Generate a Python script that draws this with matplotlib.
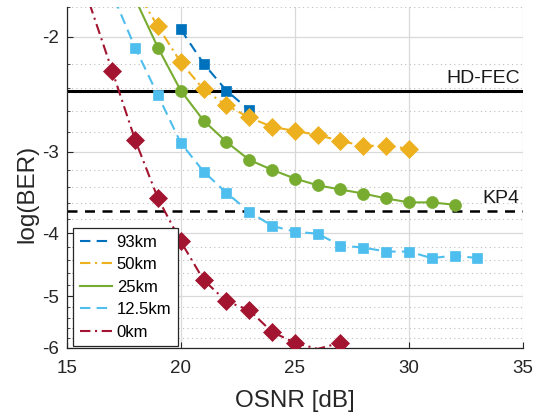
import numpy as np
import matplotlib
matplotlib.use("Agg")
import matplotlib.pyplot as plt
from matplotlib.ticker import FixedLocator, FixedFormatter

plt.rcParams['font.family'] = ['Liberation Sans', 'DejaVu Sans']
plt.rcParams['axes.unicode_minus'] = False

# data: log10(BER) vs OSNR [dB]
labels = ['93km', '50km', '25km', '12.5km', '0km']
x93 = [20, 21, 22, 23]
y93 = [-1.95, -2.20, -2.42, -2.59]
x50 = [18, 19, 20, 21, 22, 23, 24, 25, 26, 27, 28, 29, 30]
y50 = [-1.69, -1.93, -2.19, -2.41, -2.55, -2.66, -2.75, -2.79, -2.83, -2.89, -2.94, -2.94, -2.97]
x25 = [18, 19, 20, 21, 22, 23, 24, 25, 26, 27, 28, 29, 30, 31, 32]
y25 = [-1.75, -2.08, -2.42, -2.69, -2.90, -3.09, -3.20, -3.30, -3.38, -3.43, -3.48, -3.54, -3.59, -3.59, -3.62]
x12 = [17, 18, 19, 20, 21, 22, 23, 24, 25, 26, 27, 28, 29, 30, 31, 32, 33]
y12 = [-1.72, -2.08, -2.46, -2.91, -3.22, -3.47, -3.71, -3.90, -3.98, -4.01, -4.18, -4.21, -4.27, -4.27, -4.37, -4.33, -4.37]
x0 = [16, 17, 18, 19, 20, 21, 22, 23, 24, 25, 26, 27]
y0 = [-1.78, -2.26, -2.88, -3.54, -4.12, -4.72, -5.09, -5.25, -5.67, -5.89, -6.02, -5.89]

hd_fec = np.log10(3.8e-3)
kp4 = np.log10(2e-4)

yticks = [-2, -3, -4, -5, -6]
ytick_labels = ['-2', '-3', '-4', '-5', '-6']
xticks = [15, 20, 25, 30, 35]

ylo, yhi = -6.0, -1.8

dash = (0, (5, 3))
dashdot = (0, (5, 2.2, 1, 2.2))
series = [
    (x93, y93, '#0072BD', dash, 's', 7.6),
    (x50, y50, '#EDB120', dashdot, 'D', 8.8),
    (x25, y25, '#77AC30', '-', 'o', 8.6),
    (x12, y12, '#4DBEEE', dash, 's', 7.6),
    (x0, y0, '#A2142F', dashdot, 'D', 8.8),
]


def fwd(y):
    return -np.log10(np.maximum(-np.asarray(y, dtype=float), 1e-9))


def inv(f):
    return -10.0 ** (-np.asarray(f, dtype=float))


fig = plt.figure(figsize=(5.37, 4.19), dpi=100)
ax = fig.add_axes([0.1242, 0.1695, 0.8497, 0.8145])
ax.set_yscale('function', functions=(fwd, inv))

for (xs, ys, col, ls, mk, ms), lab in zip(series, labels):
    ys = np.array(ys)
    ax.plot(xs, ys, color=col, ls=ls, lw=1.5, label=lab, zorder=3)
    # only show markers that sit inside the axis range
    vis = (ys >= ylo) & (ys <= yhi)
    ax.plot(np.array(xs)[vis], ys[vis], ls='none', marker=mk, ms=ms,
            color=col, mec=col, mew=0.5, zorder=4)

ax.axhline(hd_fec, color='black', lw=2.2, zorder=2)
ax.axhline(kp4, color='black', lw=1.8, ls=(0, (4, 3)), zorder=2)
ax.annotate('HD-FEC', (34.85, hd_fec), xytext=(0, 2.5), textcoords='offset points',
            ha='right', va='bottom', fontsize=14, color='#1a1a1a')
ax.annotate('KP4', (34.85, kp4), xytext=(0, 2.5), textcoords='offset points',
            ha='right', va='bottom', fontsize=14, color='#1a1a1a')

ax.set_xlim(15, 35)
ax.set_ylim(ylo, yhi)
ax.set_xticks(xticks)
ax.yaxis.set_major_locator(FixedLocator(yticks))
ax.yaxis.set_major_formatter(FixedFormatter(ytick_labels))
minor = [-(1.8 + 0.2 * i) for i in range(22)]
minor = [m for m in minor if abs(m - round(m)) > 1e-6]
ax.yaxis.set_minor_locator(FixedLocator(minor))
ax.yaxis.set_minor_formatter(FixedFormatter([''] * len(minor)))

ax.grid(True, which='major', color='#d9d9d9', lw=0.9, zorder=0)
ax.grid(True, which='minor', axis='y', color='#bdbdbd', lw=0.8, ls=(0, (1, 3)), zorder=0)
ax.set_axisbelow(True)

for s in ['top', 'right']:
    ax.spines[s].set_visible(False)
for s in ['left', 'bottom']:
    ax.spines[s].set_color('#262626')
    ax.spines[s].set_linewidth(0.9)
ax.tick_params(which='both', direction='in', colors='#262626', labelsize=13.5)
ax.tick_params(which='major', length=4)
ax.tick_params(which='minor', length=2.5)
ax.tick_params(axis='x', pad=9)
ax.tick_params(axis='y', pad=5.5)

ax.set_xlabel('OSNR [dB]', fontsize=17.5, color='#262626')
ax.set_ylabel('log(BER)', fontsize=17.5, color='#262626')
ax.xaxis.set_label_coords(0.5, -0.122)
ax.yaxis.set_label_coords(-0.062, 0.45)

leg = ax.legend(loc='lower left', bbox_to_anchor=(0.0145, 0.005), borderaxespad=0,
                fontsize=12, handlelength=1.95, handletextpad=0.25, labelspacing=0.45,
                borderpad=0.4, fancybox=False, framealpha=1)
leg.get_frame().set_edgecolor('#262626')
leg.get_frame().set_linewidth(0.9)

fig.savefig('out.png', dpi=100)
